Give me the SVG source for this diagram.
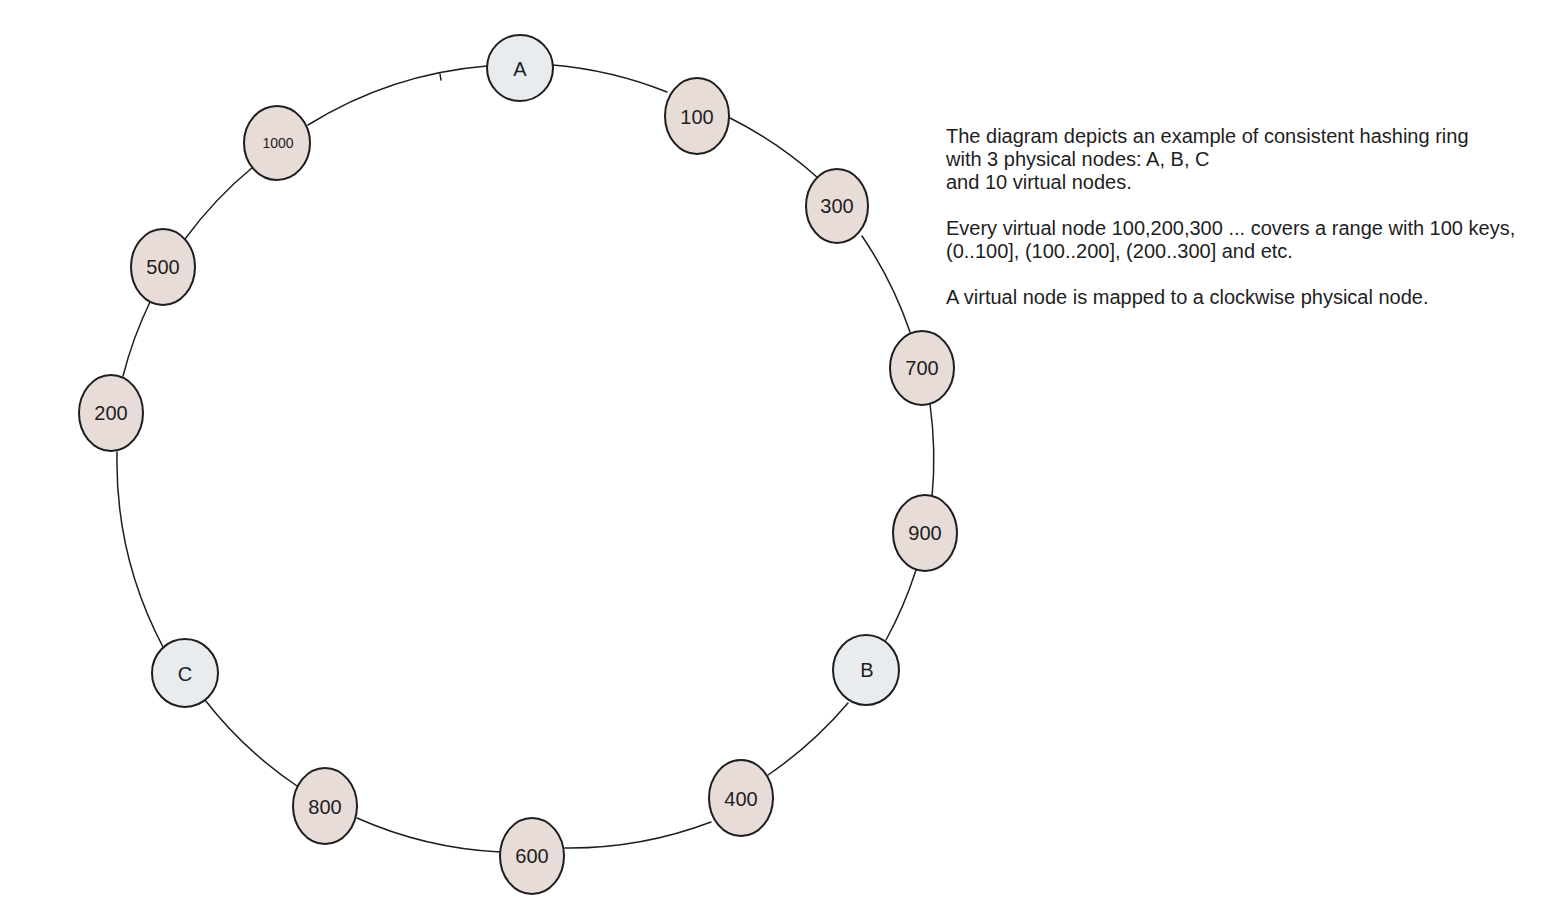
<svg xmlns="http://www.w3.org/2000/svg" width="1548" height="914" viewBox="0 0 1548 914">
<style>
.ring{fill:none;stroke:#1e1e1e;stroke-width:1.5;stroke-linecap:round}
.v{fill:#e8dcd8;stroke:#1e1e1e;stroke-width:2}
.p{fill:#e9ecef;stroke:#1e1e1e;stroke-width:2}
.lbl{font-family:"Liberation Sans",Arial,sans-serif;font-size:20px;fill:#1e1e1e;text-anchor:middle;dominant-baseline:central}
.sm{font-size:14px}
.desc{font-family:"Liberation Sans",Arial,sans-serif;font-size:20px;fill:#1e1e1e}
</style>
<rect width="1548" height="914" fill="#ffffff"/>
<g id="connectors">
<path class="ring" d="M553 65 A400 400 0 0 1 667 92"/>
<path class="ring" d="M730 118 A400 400 0 0 1 818 178"/>
<path class="ring" d="M862 236 A400 400 0 0 1 910 332"/>
<path class="ring" d="M930 404 A400 400 0 0 1 932 497"/>
<path class="ring" d="M916 570 A400 400 0 0 1 886 640"/>
<path class="ring" d="M848 703 A400 400 0 0 1 768 775"/>
<path class="ring" d="M711 822 A400 400 0 0 1 565 848"/>
<path class="ring" d="M500 852 A400 400 0 0 1 357 818"/>
<path class="ring" d="M297 786 A400 400 0 0 1 205 700"/>
<path class="ring" d="M163 647 A400 400 0 0 1 117 452"/>
<path class="ring" d="M123 376 A400 400 0 0 1 150 302"/>
<path class="ring" d="M185 239 A400 400 0 0 1 253 167"/>
<path class="ring" d="M308 125 A400 400 0 0 1 487 66"/>
<path class="ring" d="M440 74 L441 80"/>
</g>
<g id="node-A"><ellipse class="p" cx="520" cy="68" rx="33" ry="33"/><text class="lbl" x="520" y="69">A</text></g>
<g id="node-100"><ellipse class="v" cx="697" cy="116" rx="32" ry="38"/><text class="lbl" x="697" y="117">100</text></g>
<g id="node-300"><ellipse class="v" cx="837" cy="206" rx="31" ry="37"/><text class="lbl" x="837" y="206">300</text></g>
<g id="node-700"><ellipse class="v" cx="922" cy="368" rx="32" ry="37"/><text class="lbl" x="922" y="368">700</text></g>
<g id="node-900"><ellipse class="v" cx="925" cy="533" rx="32" ry="38"/><text class="lbl" x="925" y="533">900</text></g>
<g id="node-B"><ellipse class="p" cx="866" cy="670" rx="33" ry="35"/><text class="lbl" x="867" y="670">B</text></g>
<g id="node-400"><ellipse class="v" cx="741" cy="798" rx="32" ry="38"/><text class="lbl" x="741" y="799">400</text></g>
<g id="node-600"><ellipse class="v" cx="532" cy="856" rx="32" ry="38"/><text class="lbl" x="532" y="856">600</text></g>
<g id="node-800"><ellipse class="v" cx="325" cy="806" rx="32" ry="38"/><text class="lbl" x="325" y="807">800</text></g>
<g id="node-C"><ellipse class="p" cx="185" cy="673" rx="33" ry="34"/><text class="lbl" x="185" y="674">C</text></g>
<g id="node-200"><ellipse class="v" cx="111" cy="413" rx="32" ry="38"/><text class="lbl" x="111" y="413">200</text></g>
<g id="node-500"><ellipse class="v" cx="163" cy="267" rx="32" ry="38"/><text class="lbl" x="163" y="267">500</text></g>
<g id="node-1000"><ellipse class="v" cx="277" cy="143" rx="33" ry="37"/><text class="lbl sm" x="278" y="143">1000</text></g>
<g id="description">
<text class="desc" x="946" y="143">The diagram depicts an example of consistent hashing ring</text>
<text class="desc" x="946" y="166">with 3 physical nodes: A, B, C</text>
<text class="desc" x="946" y="189">and 10 virtual nodes.</text>
<text class="desc" x="946" y="235">Every virtual node 100,200,300 ... covers a range with 100 keys,</text>
<text class="desc" x="946" y="258">(0..100], (100..200], (200..300] and etc.</text>
<text class="desc" x="946" y="304">A virtual node is mapped to a clockwise physical node.</text>
</g>
</svg>
